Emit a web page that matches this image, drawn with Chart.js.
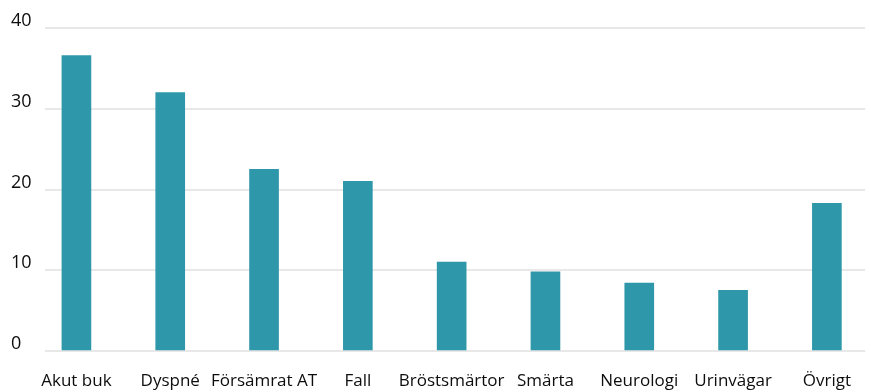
<!DOCTYPE html>
<html>
<head>
<meta charset="utf-8">
<script src="https://cdn.jsdelivr.net/npm/chart.js@4/dist/chart.umd.min.js"></script>
<style>
  html, body { margin: 0; padding: 0; background: #fff; }
  #wrap { width: 871px; height: 392px; position: relative; }
</style>
</head>
<body>
<div id="wrap"><canvas id="c"></canvas></div>
<script>
// Kategorier och antal
const categories = ['Akut buk', 'Dyspné', 'Försämrat AT', 'Fall', 'Bröstsmärtor', 'Smärta', 'Neurologi', 'Urinvägar', 'Övrigt'];
const values = [36.6, 32, 22.5, 21, 11, 9.8, 8.4, 7.5, 18.3];
const yTicks = [0, 10, 20, 30, 40];

const points = values.map((v, i) => ({ x: i, y: v }));
const FONT = "'Open Sans', 'Noto Sans', sans-serif";

new Chart(document.getElementById('c'), {
  type: 'bar',
  data: {
    datasets: [{
      data: points,
      backgroundColor: '#2e98aa',
      barThickness: 29
    }]
  },
  options: {
    responsive: true,
    maintainAspectRatio: false,
    animation: false,
    layout: { padding: { top: 28, left: 11, right: 0, bottom: 0 } },
    plugins: { legend: { display: false }, tooltip: { enabled: false } },
    scales: {
      x: {
        type: 'linear',
        offset: false,
        min: -0.335,
        max: 8.409,
        grid: { display: false, drawTicks: false },
        border: { display: false },
        afterBuildTicks: (s) => { s.ticks = categories.map((_, i) => ({ value: i })); },
        afterFit: (s) => { s.height = 41; },
        ticks: {
          autoSkip: false,
          maxRotation: 0,
          padding: 20,
          color: '#0d0d0d',
          font: { family: FONT, size: 17 },
          callback: (v) => categories[v]
        }
      },
      y: {
        min: 0,
        max: 40,
        afterBuildTicks: (s) => { s.ticks = yTicks.map(v => ({ value: v })); },
        afterFit: (s) => { s.width = 34; },
        grid: { color: '#e8e8e8', lineWidth: 2, drawTicks: false },
        border: { display: false },
        ticks: {
          crossAlign: 'far',
          padding: 0,
          labelOffset: -7,
          color: '#0d0d0d',
          font: { family: FONT, size: 18 }
        }
      }
    }
  }
});
</script>
</body>
</html>
